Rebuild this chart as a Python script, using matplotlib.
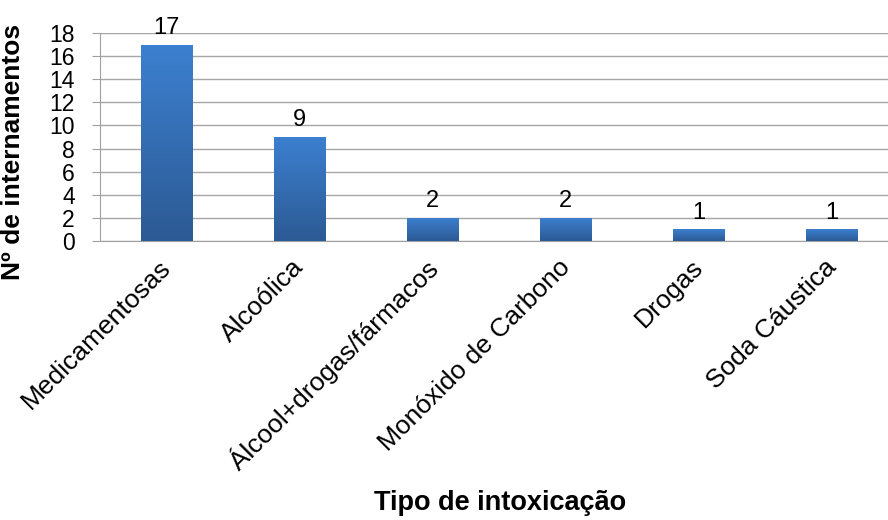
import numpy as np
import matplotlib.pyplot as plt
from matplotlib.colors import LinearSegmentedColormap
from matplotlib.transforms import ScaledTranslation

plt.rcParams['font.family'] = ['Liberation Sans', 'DejaVu Sans']

# tipos de intoxicação e número de internamentos
tipos = ["Medicamentosas", "Alcoólica", "Álcool+drogas/fármacos",
         "Monóxido de Carbono", "Drogas", "Soda Cáustica"]
internamentos = [17, 9, 2, 2, 1, 1]
yticks = [0, 2, 4, 6, 8, 10, 12, 14, 16, 18]

fig = plt.figure(figsize=(8.88, 5.2), dpi=100)
ax = fig.add_axes([0.1126, 0.5365, 0.8874, 0.4])

x = np.arange(len(tipos))
barras = ax.bar(x, internamentos, width=0.39, color='#3670b8', zorder=3)

# degradê vertical em cada barra
cmap = LinearSegmentedColormap.from_list('azul', ['#2c5a94', '#3c80d0'])
grad = np.linspace(0, 1, 256).reshape(-1, 1)
for b in barras:
    x0, y0 = b.get_x(), b.get_y()
    w, h = b.get_width(), b.get_height()
    im = ax.imshow(grad, cmap=cmap, aspect='auto', origin='lower',
                   extent=[x0, x0 + w, y0, y0 + h], zorder=4)
    im.set_clip_path(b)

for xi, v in zip(x, internamentos):
    ax.annotate(str(v), (xi, v), xytext=(0, 4), textcoords='offset points',
                ha='center', va='bottom', fontsize=17)

ax.set_xlim(-0.5, 5.42)
ax.set_ylim(0, 18)
ax.set_yticks(yticks)
ax.tick_params(axis='y', labelsize=16.5, length=6, color='#a0a0a0', pad=12)
ax.set_xticks(x)
ax.set_xticklabels(tipos, rotation=45, ha='right', rotation_mode='anchor', fontsize=19)
ax.tick_params(axis='x', length=0, pad=10)
desloc = ScaledTranslation(-8 / 100, 0, fig.dpi_scale_trans)
for lab in ax.get_xticklabels():
    lab.set_transform(lab.get_transform() + desloc)
ax.grid(axis='y', color='#a6a6a6', linewidth=1, zorder=0)
for s in ['top', 'right']:
    ax.spines[s].set_visible(False)
ax.spines['left'].set_color('#a0a0a0')
ax.spines['bottom'].set_color('#a0a0a0')

ax.set_ylabel("Nº de internamentos", fontsize=19, fontweight='bold')
ax.yaxis.set_label_coords(25 / 888, 1 - 152 / 520, transform=fig.transFigure)
fig.text(0.563, 0.033, "Tipo de intoxicação", fontsize=19.5, fontweight='bold',
         ha='center', va='center')

fig.savefig('out.png', dpi=100)
